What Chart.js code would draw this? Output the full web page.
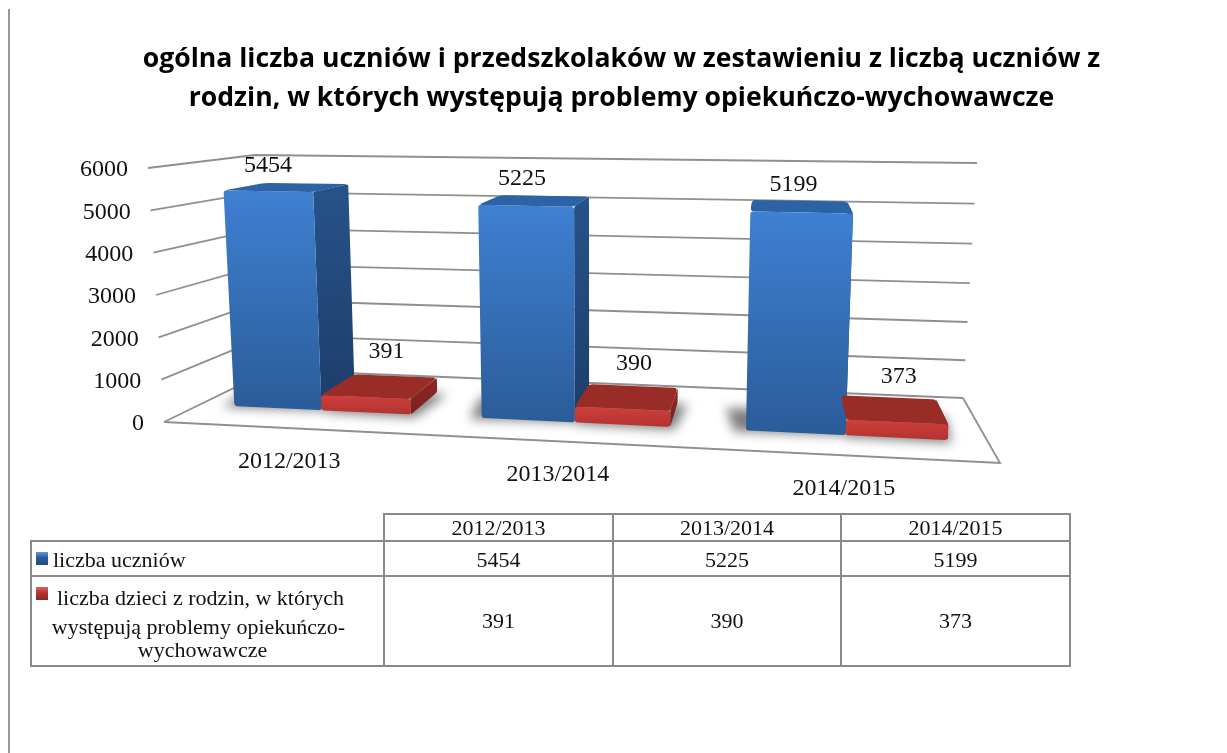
<!DOCTYPE html>
<html lang="pl">
<head>
<meta charset="utf-8">
<title>liczba uczniów</title>
<script src="https://cdn.jsdelivr.net/npm/chart.js@4"></script>
<style>
html, body { margin: 0; padding: 0; background: #fff; width: 1227px; height: 753px; overflow: hidden; }
#wrap { position: absolute; left: 0; top: 0; width: 1227px; height: 753px; }
#rule { position: absolute; left: 8px; top: 9px; width: 2px; height: 744px; background: #999; }
#data-table { position: absolute; left: 30px; top: 513px; border-collapse: collapse; table-layout: fixed; width: 1040px;
  font-family: "Liberation Serif", serif; font-size: 22px; color: #111; }
#data-table td { border: 2px solid #8a8a8a; text-align: center; padding: 0; line-height: 24px; }
#data-table td.blank { border-top: none; border-left: none; }
#data-table tr.head td { height: 25px; }
#data-table tr.first td { padding-top: 3px; height: 30px; }
#data-table tr.second td { height: 88px; }
#data-table td.name { text-align: left; padding-left: 4px; }
#data-table td.wrapped { padding: 0; position: relative; }
.key { position: absolute; left: 4px; width: 12px; height: 13px; }
.key.blue { background: linear-gradient(#5b9be0, #2a5a96 45%, #234d80); position: static; display: inline-block; margin-right: 5px; vertical-align: 2px; }
.key.red { top: 10px; background: linear-gradient(#e0605a, #b23532 45%, #8a2623); }
.line { padding-right: 14px; }
.line.l0 { height: 34px; line-height: 38px; }
.line.l1 { height: 25px; line-height: 28px; padding-right: 18px; }
.line.l2 { height: 25px; line-height: 24px; padding-right: 10px; }
</style>
</head>
<body>
<div id="wrap"><canvas id="chart" width="1227" height="753"></canvas></div>
<div id="rule"></div>
<table id="data-table">
  <colgroup><col style="width:353px"><col style="width:229px"><col style="width:228px"><col style="width:229px"></colgroup>
  <tr class="head"><td class="blank"></td><td id="c0"></td><td id="c1"></td><td id="c2"></td></tr>
  <tr class="first"><td class="name" id="n0"></td><td id="a0"></td><td id="a1"></td><td id="a2"></td></tr>
  <tr class="second"><td class="wrapped" id="n1"></td><td id="b0"></td><td id="b1"></td><td id="b2"></td></tr>
</table>
<script>
const categories = ['2012/2013', '2013/2014', '2014/2015'];
const pupils = [5454, 5225, 5199];
const familyProblems = [391, 390, 373];
const seriesNames = ['liczba uczniów', 'liczba dzieci z rodzin, w których występują problemy opiekuńczo-wychowawcze'];
const secondNameLines = ['liczba dzieci z rodzin, w których', 'występują problemy opiekuńczo-', 'wychowawcze'];
const yTicks = [0, 1000, 2000, 3000, 4000, 5000, 6000];
const titleLines = [
    'ogólna liczba uczniów i przedszkolaków w zestawieniu z liczbą uczniów z',
    'rodzin, w których występują problemy opiekuńczo-wychowawcze'
];

// corners of the perspective planes: bottom-left, bottom-right, top-right, top-left
const frontPlane = [[201, 404.5], [988, 442], [1002, 180.5], [188, 167.5]];
const backPlane = [[243, 383.7], [973, 415.8], [985, 169.8], [233, 161.7]];
const wallPlane = [[271, 370], [963, 398], [977, 163], [255, 155]];
const sideEdge = [[164, 422], [148, 168]];
const floorFrontRight = [1000, 463];

const faces = [
    { top: '#2c62a6', side: ['#27538a', '#1c3d69'], front: ['#3f80d2', '#2b5c99'] },
    { top: '#9a2c28', side: ['#8e2825', '#7c211f'], front: ['#cf3f3b', '#b23230'] }
];

// unit square -> quad (Heckbert)
function makeHomography(q) {
    const [p0, p1, p2, p3] = q;
    const sx = p0[0] - p1[0] + p2[0] - p3[0], sy = p0[1] - p1[1] + p2[1] - p3[1];
    const dx1 = p1[0] - p2[0], dx2 = p3[0] - p2[0], dy1 = p1[1] - p2[1], dy2 = p3[1] - p2[1];
    const den = dx1 * dy2 - dx2 * dy1;
    const g = (sx * dy2 - dx2 * sy) / den, h = (dx1 * sy - sx * dy1) / den;
    const a = p1[0] - p0[0] + g * p1[0], b = p3[0] - p0[0] + h * p3[0];
    const d = p1[1] - p0[1] + g * p1[1], e = p3[1] - p0[1] + h * p3[1];
    return (u, v) => {
        const w = g * u + h * v + 1;
        return [(a * u + b * v + p0[0]) / w, (d * u + e * v + p0[1]) / w];
    };
}
const toFront = makeHomography(frontPlane);
const toBack = makeHomography(backPlane);
const toWall = makeHomography(wallPlane);

function lerpPt(a, b, t) { return [a[0] + (b[0] - a[0]) * t, a[1] + (b[1] - a[1]) * t]; }

// point at distance d from a towards b, never past the middle
function along(a, b, d) {
    const len = Math.hypot(b[0] - a[0], b[1] - a[1]) || 1;
    return lerpPt(a, b, Math.min(d / len, 0.5));
}

function poly(ctx, pts, r) {
    const n = pts.length;
    ctx.beginPath();
    pts.forEach((p, i) => {
        const prev = pts[(i + n - 1) % n], next = pts[(i + 1) % n];
        const a = r ? along(p, prev, r) : p, b = r ? along(p, next, r) : p;
        if (i) ctx.lineTo(a[0], a[1]); else ctx.moveTo(a[0], a[1]);
        ctx.quadraticCurveTo(p[0], p[1], b[0], b[1]);
    });
    ctx.closePath();
}

function vGrad(ctx, pts, stops) {
    const ys = pts.map(p => p[1]);
    const g = ctx.createLinearGradient(0, Math.min(...ys), 0, Math.max(...ys));
    g.addColorStop(0, stops[0]);
    g.addColorStop(1, stops[1]);
    return g;
}

// normalised plot coordinates of a bar, taken from the library's elements
function barCorners(chart, el) {
    const area = chart.chartArea;
    const nu = x => (x - area.left) / area.width;
    const nv = y => (area.bottom - y) / area.height;
    const l = nu(el.x - el.width / 2), r = nu(el.x + el.width / 2);
    const t = nv(el.y), b = nv(el.base);
    return {
        fbl: toFront(l, b), fbr: toFront(r, b), ftr: toFront(r, t), ftl: toFront(l, t),
        bbl: toBack(l, b), bbr: toBack(r, b), btr: toBack(r, t), btl: toBack(l, t),
        u: (l + r) / 2
    };
}

const perspectivePlugin = {
    id: 'perspective',
    beforeDatasetsDraw(chart) {
        const ctx = chart.ctx;
        const yScale = chart.scales.y, area = chart.chartArea;
        const frac = v => (area.bottom - yScale.getPixelForValue(v)) / area.height;

        ctx.save();
        // gridlines: side edge -> back corner -> right end
        ctx.strokeStyle = '#8f8f8f';
        ctx.lineWidth = 1.8;
        yTicks.forEach(v => {
            const t = frac(v);
            const a = lerpPt(sideEdge[0], sideEdge[1], t), b = toWall(0, t), c = toWall(1, t);
            ctx.beginPath();
            ctx.moveTo(a[0], a[1]);
            ctx.lineTo(b[0], b[1]);
            ctx.lineTo(c[0], c[1]);
            ctx.stroke();
        });
        // floor front and right edges
        const w0 = toWall(1, 0);
        ctx.beginPath();
        ctx.moveTo(sideEdge[0][0], sideEdge[0][1]);
        ctx.lineTo(floorFrontRight[0], floorFrontRight[1]);
        ctx.lineTo(w0[0], w0[1]);
        ctx.stroke();

        // y tick labels follow the side edge
        ctx.fillStyle = '#111';
        ctx.font = '24px "Liberation Serif"';
        ctx.textAlign = 'right';
        ctx.textBaseline = 'middle';
        yTicks.forEach(v => {
            const a = lerpPt(sideEdge[0], sideEdge[1], frac(v));
            ctx.fillText(String(v), a[0] - 20, a[1] + 2);
        });

        // x labels under the floor
        ctx.textAlign = 'center';
        categories.forEach((c, i) => {
            const u = (chart.scales.x.getPixelForValue(i) - area.left) / area.width;
            const p = toFront(u, 0);
            ctx.fillText(c, p[0] - 40 + 46 * u, p[1] + 51 + 3 * u);
        });

        // soft shadows on the floor: only the blur shows, the shape itself is drawn off the page
        const away = 3000;
        chart.data.datasets.forEach((ds, di) => {
            chart.getDatasetMeta(di).data.forEach(el => {
                const k = barCorners(chart, el);
                const shape = di === 0
                    ? [[k.fbl[0] - 12, k.fbl[1] + 1], k.fbr, k.bbr, [k.bbl[0] - 22, k.bbl[1] + 2]]
                    : [[k.fbl[0], k.fbl[1] + 2], [k.fbr[0] + 4, k.fbr[1] + 3], [k.bbr[0] + 10, k.bbr[1] + 2], k.bbl];
                ctx.save();
                ctx.shadowColor = 'rgba(0,0,0,0.5)';
                ctx.shadowBlur = 11;
                ctx.shadowOffsetX = away;
                ctx.fillStyle = '#000';
                poly(ctx, shape.map(p => [p[0] - away, p[1]]));
                ctx.fill();
                ctx.restore();
            });
        });

        // 3D boxes, one category at a time
        categories.forEach((c, i) => {
            chart.data.datasets.forEach((ds, di) => {
                const el = chart.getDatasetMeta(di).data[i];
                const k = barCorners(chart, el), f = faces[di];
                const side = [k.ftr, k.btr, k.bbr, k.fbr];
                ctx.fillStyle = vGrad(ctx, side, f.side);
                poly(ctx, side, 2);
                ctx.fill();
                ctx.fillStyle = f.top;
                poly(ctx, [k.ftl, k.btl, k.btr, k.ftr], 4);
                ctx.fill();
                const front = [k.ftl, k.ftr, k.fbr, k.fbl];
                ctx.fillStyle = vGrad(ctx, front, f.front);
                poly(ctx, front, 3);
                ctx.fill();
            });
        });

        // value labels
        ctx.fillStyle = '#111';
        ctx.textAlign = 'center';
        const depth = [0, 0.5], shiftY = [26, 46];
        chart.data.datasets.forEach((ds, di) => {
            chart.getDatasetMeta(di).data.forEach((el, i) => {
                const k = barCorners(chart, el);
                const fx = (k.ftl[0] + k.ftr[0]) / 2, bx = (k.btl[0] + k.btr[0]) / 2;
                const fy = (k.ftl[1] + k.ftr[1]) / 2;
                const dx = di ? 6 : 1 - 12 * k.u;
                ctx.fillText(String(ds.data[i]), fx + (bx - fx) * depth[di] + dx, fy - shiftY[di] - (di ? 0 : 4 * k.u) + 1);
            });
        });
        ctx.restore();
        return false; // the boxes replace the flat bars
    }
};

new Chart(document.getElementById('chart'), {
    type: 'bar',
    data: {
        labels: categories,
        datasets: [
            { label: seriesNames[0], data: pupils, backgroundColor: '#3f80d2' },
            { label: seriesNames[1], data: familyProblems, backgroundColor: '#cf3f3b' }
        ]
    },
    options: {
        responsive: false,
        animation: false,
        layout: { padding: { left: 24, right: 8, top: 0, bottom: 330 } },
        datasets: { bar: { categoryPercentage: 0.72, barPercentage: 1 } },
        plugins: {
            legend: { display: false },
            tooltip: { enabled: false },
            title: {
                display: true,
                text: titleLines,
                color: '#000',
                font: { family: 'Open Sans', weight: 'bold', size: 26.6, lineHeight: 1.466 },
                padding: { top: 40, bottom: 38 }
            }
        },
        scales: {
            x: { grid: { display: false }, border: { display: false }, ticks: { display: false } },
            y: {
                min: 0, max: 6000,
                afterBuildTicks: axis => { axis.ticks = yTicks.map(v => ({ value: v })); },
                grid: { display: false }, border: { display: false }, ticks: { display: false }
            }
        }
    },
    plugins: [perspectivePlugin]
});

// data table under the plot
categories.forEach((c, i) => {
    document.getElementById('c' + i).textContent = c;
    document.getElementById('a' + i).textContent = pupils[i];
    document.getElementById('b' + i).textContent = familyProblems[i];
});
document.getElementById('n0').innerHTML = '<span class="key blue"></span>' + seriesNames[0];
document.getElementById('n1').innerHTML = '<span class="key red"></span>' +
    secondNameLines.map((t, i) => '<div class="line l' + i + '">' + t + '</div>').join('');
</script>
</body>
</html>
